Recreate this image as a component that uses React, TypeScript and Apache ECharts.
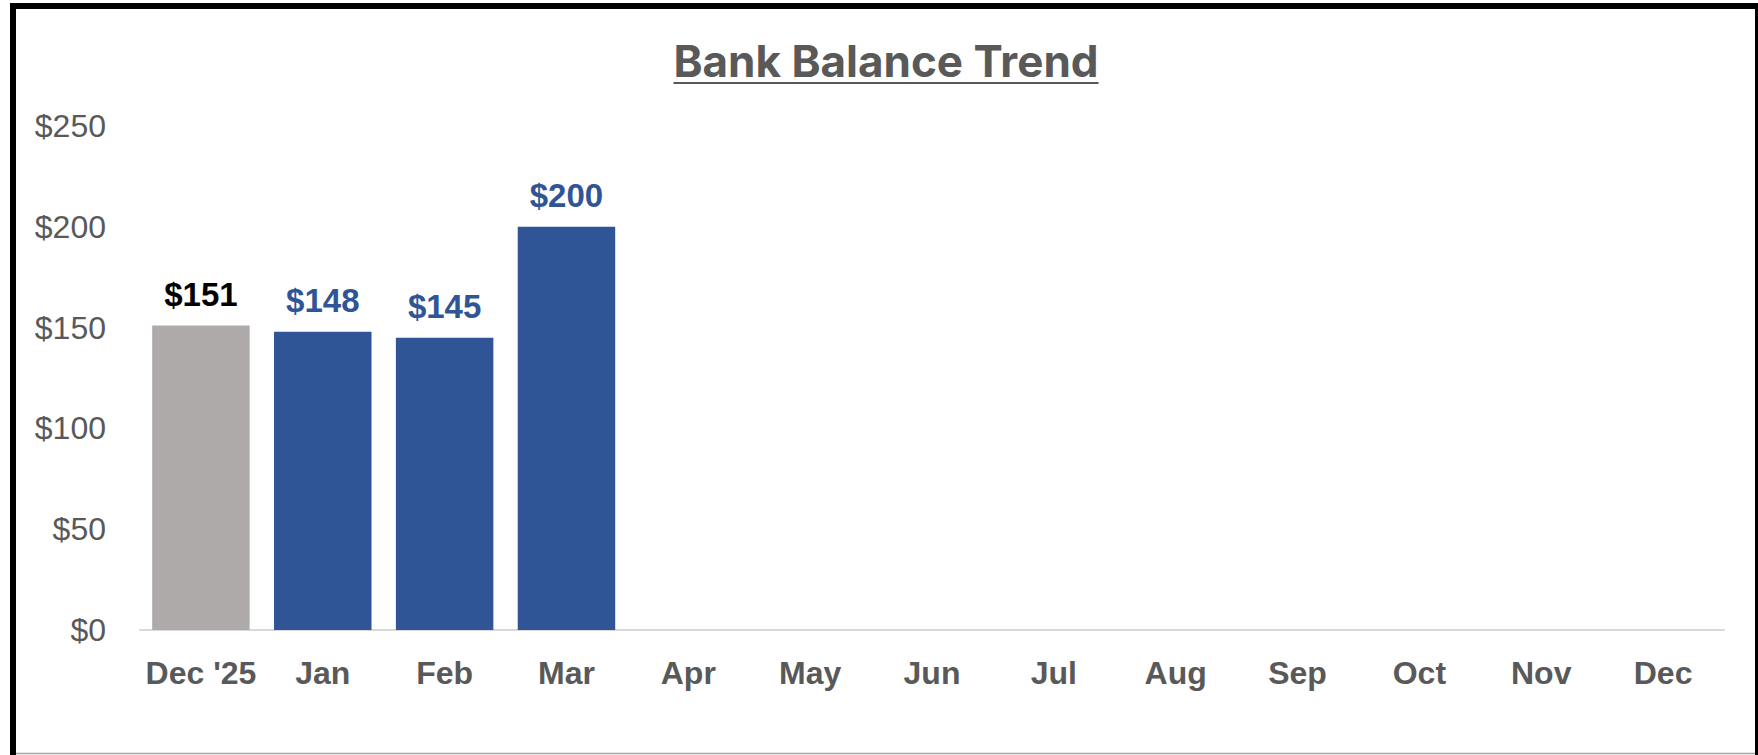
import React, { useEffect, useRef } from "react";
import * as echarts from "echarts";

const categories = ["Dec '25", "Jan", "Feb", "Mar", "Apr", "May", "Jun", "Jul", "Aug", "Sep", "Oct", "Nov", "Dec"];
const balances: (number | null)[] = [151, 148, 145, 200, null, null, null, null, null, null, null, null, null];
const yTicks = [0, 50, 100, 150, 200, 250];
const titleText = "Bank Balance Trend";

const BLUE = "#2F5597";
const GREY_BAR = "#AEAAAA";
const TEXT_GREY = "#595959";

export default function App() {
  const ref = useRef<HTMLDivElement>(null);
  useEffect(() => {
    if (!ref.current) return;
    const chart = echarts.init(ref.current, null, { renderer: "svg" });
    const titleFont = "bold 44px Inter";
    const canvas = document.createElement("canvas");
    const ctx = canvas.getContext("2d")!;
    ctx.font = titleFont;
    const tw = ctx.measureText(titleText).width;
    const titleX = 886;
    const data = balances.map((v, i) =>
      v == null
        ? null
        : {
            value: v,
            itemStyle: { color: i === 0 ? GREY_BAR : BLUE },
            label: { color: i === 0 ? "#000000" : BLUE },
          }
    );
    chart.setOption({
      animation: false,
      backgroundColor: "#ffffff",
      grid: { left: 140, right: 34, top: 126, bottom: 125, containLabel: false },
      xAxis: {
        type: "category",
        data: categories,
        axisLine: { lineStyle: { color: "#D9D9D9", width: 2 } },
        axisTick: { show: false },
        axisLabel: {
          color: TEXT_GREY,
          fontFamily: "Liberation Sans",
          fontWeight: "bold",
          fontSize: 32,
          margin: 27,
          interval: 0,
        },
      },
      yAxis: {
        type: "value",
        min: yTicks[0],
        max: yTicks[yTicks.length - 1],
        interval: 50,
        splitLine: { show: false },
        axisLine: { show: false },
        axisTick: { show: false },
        axisLabel: {
          color: TEXT_GREY,
          fontFamily: "Liberation Sans",
          fontSize: 32,
          margin: 34,
          formatter: (v: number) => "$" + v,
        },
      },
      series: [
        {
          type: "bar",
          data,
          barCategoryGap: "20%",
          label: {
            show: true,
            position: "top",
            distance: 15,
            fontFamily: "Liberation Sans",
            fontWeight: "bold",
            fontSize: 33,
            formatter: (p: any) => "$" + p.value,
          },
        },
      ],
      graphic: [
        {
          type: "text",
          x: titleX,
          y: 61,
          style: {
            text: titleText,
            font: titleFont,
            fill: TEXT_GREY,
            textAlign: "center",
            textVerticalAlign: "middle",
          },
        },
        {
          type: "line",
          shape: { x1: titleX - tw / 2, y1: 83, x2: titleX + tw / 2, y2: 83 },
          style: { stroke: TEXT_GREY, lineWidth: 2 },
        },
        {
          type: "line",
          shape: { x1: 10, y1: 6, x2: 1758, y2: 6 },
          style: { stroke: "#000000", lineWidth: 6 },
          silent: true,
        },
        {
          type: "line",
          shape: { x1: 13, y1: 3, x2: 13, y2: 755 },
          style: { stroke: "#000000", lineWidth: 6 },
          silent: true,
        },
        {
          type: "line",
          shape: { x1: 1756.5, y1: 3, x2: 1756.5, y2: 755 },
          style: { stroke: "#000000", lineWidth: 3 },
          silent: true,
        },
        {
          type: "line",
          shape: { x1: 16, y1: 753.5, x2: 1755, y2: 753.5 },
          style: { stroke: "#A6A6A6", lineWidth: 1.5 },
          silent: true,
        },
      ],
    });
    return () => chart.dispose();
  }, []);
  return (
    <div
      ref={ref}
      style={{ position: "fixed", left: 0, top: 0, width: 1758, height: 755 }}
    />
  );
}
